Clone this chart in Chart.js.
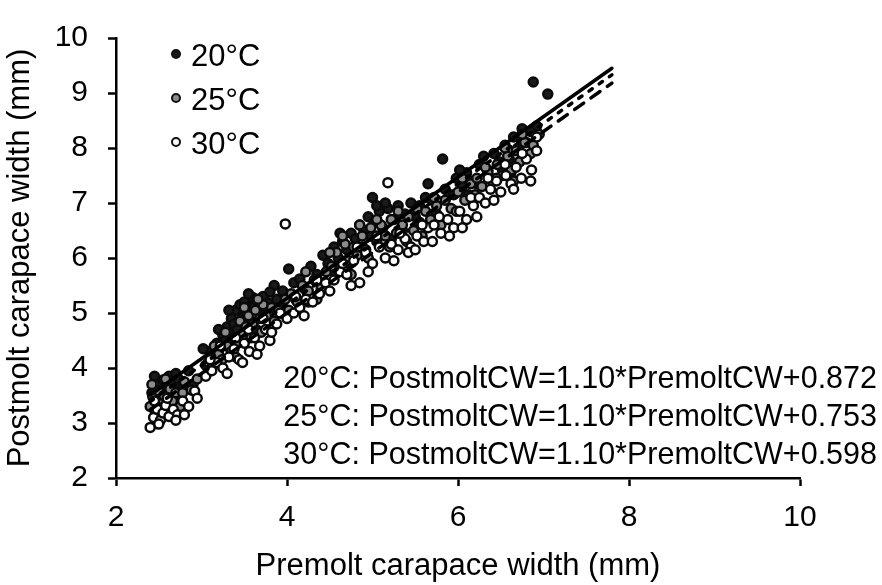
<!DOCTYPE html>
<html>
<head>
<meta charset="utf-8">
<script src="https://cdn.jsdelivr.net/npm/chart.js@4/dist/chart.umd.min.js"></script>
<style>
  html, body { margin: 0; padding: 0; background: #fff; }
  #wrap { width: 882px; height: 585px; }
</style>
</head>
<body>
<div id="wrap"><canvas id="chart" width="882" height="585"></canvas></div>
<script>
// Temperature groups
const temps = ['20°C', '25°C', '30°C'];

// Premolt vs postmolt carapace width (mm)
const pts20 = [
  [2.42,3.55],[2.45,3.62],[2.48,3.40],[2.50,3.70],[2.52,3.52],[2.55,3.78],[2.58,3.60],[2.60,3.45],[2.62,3.85],[2.65,3.72],
  [2.68,3.58],[2.70,3.90],[2.73,3.80],[2.78,3.68],[2.85,3.95],
  [2.45,3.85],[2.55,3.30],[2.62,3.25],[2.75,3.50],[2.90,3.70],
  [3.05,4.05],[3.10,4.30],[3.15,4.20],[3.18,4.45],[3.22,4.38],[3.25,4.60],[3.28,4.50],[3.30,4.75],[3.33,4.62],[3.35,4.90],
  [3.38,4.80],[3.40,5.05],[3.42,4.70],[3.45,5.15],[3.48,4.95],[3.50,5.20],[3.52,5.00],[3.55,5.10],[3.58,4.85],[3.60,5.28],
  [3.62,5.12],[3.65,5.22],[3.70,5.05],[3.72,5.30],[3.78,5.18],[3.85,5.50],[3.88,5.25],
  [3.02,4.35],[3.20,4.70],[3.32,5.05],[3.36,4.40],[3.46,4.55],[3.55,5.35],[3.64,4.70],[3.75,5.00],[3.80,5.38],
  [3.95,5.40],[4.02,5.80],[4.08,5.55],[4.15,5.62],[4.20,5.45],[4.28,5.85],[4.35,5.70],[4.42,6.05],[4.48,5.90],
  [3.95,5.10],[4.10,5.25],[4.25,5.20],[4.40,5.55],
  [4.55,6.20],[4.60,6.00],[4.65,6.30],[4.70,6.15],[4.75,6.45],[4.80,6.35],[4.85,6.60],[4.90,6.50],[4.95,6.75],[5.00,7.10],
  [5.02,6.65],[5.08,6.85],[5.12,6.55],[5.18,6.90],[5.25,6.70],[5.30,6.95],[5.38,6.80],[5.45,7.00],
  [4.55,5.75],[4.62,6.45],[4.72,5.90],[4.88,6.20],[4.98,6.40],[5.05,6.95],[5.15,7.00],[5.22,6.35],[5.35,6.50],[5.50,6.75],
  [5.55,6.95],[5.62,7.10],[5.70,7.05],[5.82,7.80],[5.85,7.25],[5.90,7.15],[5.98,7.45],[6.05,7.30],[6.10,7.55],[6.18,7.40],
  [5.65,7.35],[5.75,6.80],[5.95,7.15],[6.02,7.60],[6.12,7.15],
  [6.25,7.70],[6.30,7.85],[6.35,7.60],[6.42,7.90],[6.48,7.75],[6.55,8.05],[6.60,7.80],[6.65,8.20],[6.70,8.00],[6.75,8.35],
  [6.80,8.10],[6.88,9.20],[6.92,8.40],[7.05,8.98],
  [6.22,7.35],[6.38,7.45],[6.52,7.60],[6.62,7.55],[6.72,7.75],[6.85,8.30]
];
const pts25 = [
  [2.40,3.30],[2.43,3.48],[2.46,3.20],[2.50,3.58],[2.53,3.35],[2.56,3.50],[2.60,3.25],[2.63,3.62],[2.66,3.40],[2.70,3.55],
  [2.75,3.30],[2.80,3.75],[2.88,3.60],[2.95,3.80],
  [2.42,3.70],[2.48,3.00],[2.58,3.80],[2.68,3.15],[2.78,3.55],
  [3.08,4.10],[3.12,4.00],[3.20,4.25],[3.24,4.15],[3.30,4.40],[3.35,4.30],[3.38,4.55],[3.42,4.45],[3.45,4.85],[3.48,4.60],
  [3.52,4.75],[3.55,4.95],[3.60,4.80],[3.63,5.05],[3.68,4.90],[3.72,5.15],[3.76,4.95],[3.82,5.10],[3.90,5.05],
  [3.15,4.40],[3.28,4.65],[3.40,4.20],[3.50,5.10],[3.58,4.55],[3.66,5.25],[3.70,4.65],[3.85,4.85],
  [3.98,5.25],[4.05,5.35],[4.12,5.20],[4.18,5.50],[4.25,5.40],[4.32,5.60],[4.40,5.45],[4.46,5.75],
  [4.02,5.05],[4.22,5.75],[4.35,5.25],
  [4.52,5.85],[4.58,6.10],[4.62,5.80],[4.68,6.25],[4.72,5.95],[4.78,6.20],[4.82,6.05],[4.88,6.40],[4.92,6.15],[4.98,6.55],
  [5.05,6.30],[5.10,6.60],[5.15,6.40],[5.22,6.70],[5.28,6.45],[5.35,6.60],[5.42,6.75],[5.48,6.50],
  [4.50,6.10],[4.65,6.40],[4.75,5.70],[4.85,6.60],[4.95,6.00],[5.05,6.70],[5.20,6.20],[5.30,6.85],[5.40,6.30],
  [5.55,6.65],[5.62,6.85],[5.68,6.70],[5.75,6.95],[5.85,7.05],[5.92,6.90],[6.00,7.20],[6.08,7.05],[6.15,7.35],
  [5.52,6.90],[5.58,6.40],[5.72,7.10],[5.80,6.60],[5.98,6.85],[6.05,7.45],
  [6.22,7.45],[6.28,7.30],[6.35,7.55],[6.40,7.40],[6.46,7.70],[6.52,7.50],[6.58,7.85],[6.62,7.60],[6.68,7.95],[6.72,7.75],
  [6.78,8.10],[6.85,7.90],[6.95,8.25],
  [6.20,7.15],[6.32,7.65],[6.45,7.45],[6.55,8.00],[6.65,7.40],[6.75,8.25],[6.88,8.05]
];
const pts30 = [
  [2.40,2.92],[2.44,3.10],[2.48,3.25],[2.52,3.05],[2.55,3.18],[2.58,3.32],[2.62,3.12],[2.67,3.25],[2.72,3.15],[2.78,3.40],
  [2.85,3.30],[2.92,3.58],
  [2.45,3.40],[2.50,2.98],[2.60,3.45],[2.70,3.05],[2.80,3.15],[2.95,3.45],
  [3.05,3.85],[3.12,3.95],[3.18,4.10],[3.25,4.00],[3.32,4.20],[3.38,4.35],[3.44,4.15],[3.50,4.45],[3.56,4.30],[3.62,4.55],
  [3.68,4.40],[3.75,4.70],[3.80,4.50],[3.88,4.80],
  [3.10,4.15],[3.22,4.40],[3.30,3.90],[3.40,4.55],[3.48,4.10],[3.55,4.70],[3.65,4.25],[3.72,4.90],[3.82,4.65],[3.92,5.00],
  [3.98,6.62],[4.00,4.90],[4.08,5.00],[4.15,5.10],[4.22,5.25],[4.30,5.20],[4.38,5.35],[4.45,5.55],
  [4.10,5.30],[4.20,4.95],[4.35,5.60],[4.50,5.40],
  [4.55,5.60],[4.62,5.75],[4.70,5.70],[4.78,5.95],[4.85,5.55],[4.92,6.10],[5.00,5.90],[5.08,6.20],[5.15,6.00],[5.18,7.37],
  [5.22,6.25],[5.30,6.15],[5.38,6.35],[5.45,6.20],[5.52,6.40],
  [4.65,5.90],[4.75,5.50],[4.82,6.20],[4.95,5.75],[5.05,6.40],[5.25,5.95],[5.32,6.45],[5.42,6.10],[5.50,6.15],
  [5.60,6.30],[5.65,6.55],[5.72,6.60],[5.80,6.45],[5.88,6.70],[5.95,6.55],[6.02,6.85],[6.10,6.70],[6.18,6.95],
  [5.58,6.60],[5.70,6.30],[5.78,6.75],[5.90,6.40],[6.05,6.55],[6.15,7.10],
  [6.25,7.10],[6.32,7.00],[6.38,7.25],[6.45,7.40],[6.50,7.20],[6.56,7.50],[6.62,7.35],[6.68,7.65],[6.74,7.45],[6.80,7.80],
  [6.86,7.60],[6.92,7.95],
  [6.22,6.75],[6.35,7.45],[6.42,7.05],[6.55,7.70],[6.65,7.25],[6.75,7.90],[6.85,7.40],[6.92,8.20]
];

// Regression line end points (x from 2.4 to 7.8)
const fit20 = [[2.4, 3.51], [7.8, 9.45]];
const fit25 = [[2.4, 3.39], [7.8, 9.33]];
const fit30 = [[2.4, 3.24], [7.8, 9.18]];

const equations = [
  '20°C: PostmoltCW=1.10*PremoltCW+0.872',
  '25°C: PostmoltCW=1.10*PremoltCW+0.753',
  '30°C: PostmoltCW=1.10*PremoltCW+0.598'
];

const xTicks = [2, 4, 6, 8, 10];
const yTicks = [2, 3, 4, 5, 6, 7, 8, 9, 10];

const FONT = '"Liberation Sans", Arial, sans-serif';
const markerFill = ['#1a1a1a', '#8c8c8c', '#ffffff'];
const toXY = arr => arr.map(p => ({ x: p[0], y: p[1] }));

function scatterSet(label, pts, fill, order) {
  return {
    label, data: toXY(pts), showLine: false,
    pointRadius: 4.5, pointHoverRadius: 4.5,
    pointBackgroundColor: fill, pointBorderColor: '#0a0a0a', pointBorderWidth: 2.5,
    order
  };
}
function fitSet(pts, dash) {
  return {
    label: 'fit', data: toXY(pts), showLine: true,
    pointRadius: 0, borderColor: '#000', borderWidth: 3.5,
    borderDash: dash, borderCapStyle: 'round', order: 0
  };
}

// legend + equation text, drawn inside the plot area
const annotate = {
  id: 'annotate',
  afterDraw(chart) {
    const ctx = chart.ctx;
    ctx.save();
    ctx.font = '31px ' + FONT;
    ctx.fillStyle = '#000';
    ctx.textBaseline = 'alphabetic';
    const ly = [66, 110, 154];
    temps.forEach((t, i) => {
      ctx.beginPath();
      ctx.arc(176, ly[i] - 12, 4, 0, Math.PI * 2);
      ctx.fillStyle = markerFill[i];
      ctx.fill();
      ctx.lineWidth = 2;
      ctx.strokeStyle = '#111';
      ctx.stroke();
      ctx.fillStyle = '#000';
      ctx.textAlign = 'left';
      ctx.fillText(t, 191, ly[i]);
    });
    ctx.font = '30.5px ' + FONT;
    ctx.textAlign = 'right';
    const ey = [388, 426, 464];
    equations.forEach((e, i) => ctx.fillText(e, 877, ey[i]));
    ctx.restore();
  }
};

new Chart(document.getElementById('chart'), {
  type: 'scatter',
  data: {
    datasets: [
      fitSet(fit20, []),
      fitSet(fit25, [4, 8.5]),
      fitSet(fit30, [11, 9]),
      scatterSet(temps[2], pts30, markerFill[2], 2),
      scatterSet(temps[1], pts25, markerFill[1], 3),
      scatterSet(temps[0], pts20, markerFill[0], 4)
    ]
  },
  options: {
    responsive: false,
    animation: false,
    events: [],
    layout: { padding: { top: 22, right: 82, left: 0, bottom: 0 } },
    plugins: { legend: { display: false }, tooltip: { enabled: false } },
    scales: {
      x: {
        type: 'linear', min: 2, max: 10,
        afterBuildTicks: s => { s.ticks = xTicks.map(v => ({ value: v })); },
        afterFit: s => { s.height = 107; },
        grid: { drawOnChartArea: false, drawTicks: true, tickLength: 8, tickWidth: 2.5, tickColor: '#000' },
        border: { display: true, color: '#000', width: 2.5 },
        ticks: { color: '#000', font: { family: FONT, size: 30 }, padding: 14, maxRotation: 0 },
        title: { display: true, text: 'Premolt carapace width (mm)', color: '#000',
                 font: { family: FONT, size: 31 }, padding: { top: 0, bottom: 0 } }
      },
      y: {
        type: 'linear', min: 2, max: 10,
        afterBuildTicks: s => { s.ticks = yTicks.map(v => ({ value: v })); },
        afterFit: s => { s.width = 116; },
        grid: { drawOnChartArea: false, drawTicks: true, tickLength: 8, tickWidth: 2.5, tickColor: '#000' },
        border: { display: true, color: '#000', width: 2.5 },
        ticks: { color: '#000', font: { family: FONT, size: 30 }, padding: 20 },
        title: { display: true, text: 'Postmolt carapace width (mm)', color: '#000',
                 font: { family: FONT, size: 31 }, padding: { top: 2, bottom: 0 } }
      }
    }
  },
  plugins: [annotate]
});
</script>
</body>
</html>
